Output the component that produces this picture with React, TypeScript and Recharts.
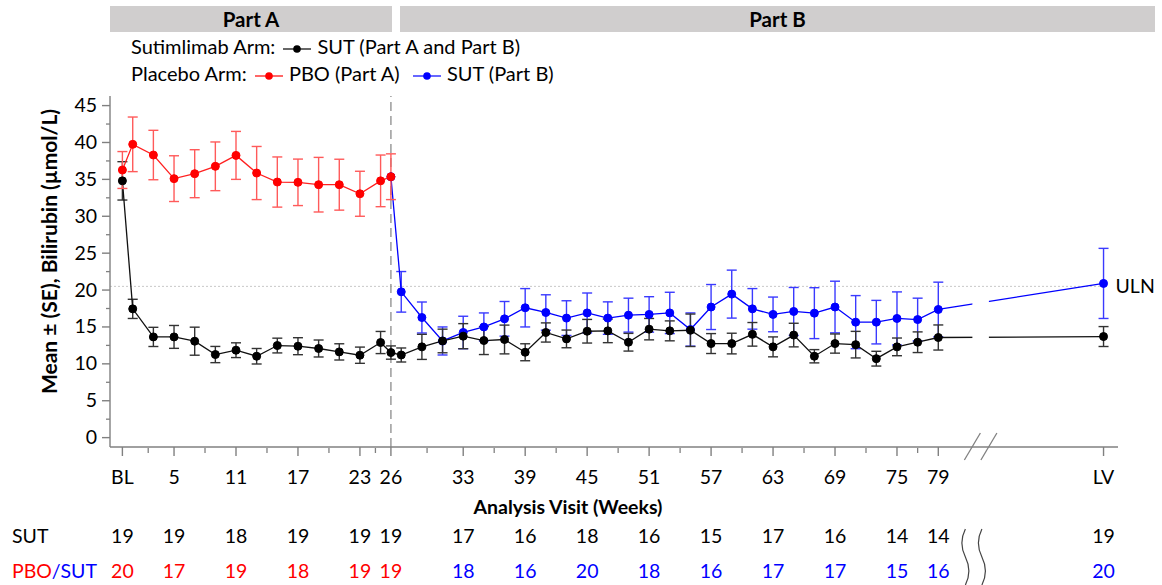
import React from 'react';
import { ComposedChart, Line, XAxis, YAxis, ErrorBar, ReferenceLine, ReferenceArea, Label } from 'recharts';

const FONT = 'Lato, "Open Sans", sans-serif';
const AXIS_GRAY = '#808080';

// Sutimlimab arm (Part A and Part B) — weeks (95 = LV)
const sutWeeks = [0, 1, 3, 5, 7, 9, 11, 13, 15, 17, 19, 21, 23, 25, 26, 27, 29, 31, 33, 35, 37, 39, 41, 43, 45, 47, 49, 51, 53, 55, 57, 59, 61, 63, 65, 67, 69, 71, 73, 75, 77, 79, 95];
const sutMean = [34.8, 17.45, 13.65, 13.65, 13.07, 11.26, 11.85, 11.03, 12.48, 12.39, 12.08, 11.62, 11.17, 12.89, 11.53, 11.2, 12.3, 13.1, 13.75, 13.16, 13.3, 11.57, 14.25, 13.38, 14.42, 14.47, 12.93, 14.7, 14.47, 14.55, 12.75, 12.75, 14.0, 12.3, 13.9, 11.03, 12.75, 12.6, 10.7, 12.3, 12.93, 13.57, 13.7];
const sutSE = [2.6, 1.3, 1.3, 1.55, 1.9, 1.1, 1.0, 1.05, 1.0, 1.15, 1.15, 1.1, 1.1, 1.5, 0.9, 0.95, 1.7, 1.6, 1.7, 1.9, 1.95, 1.15, 1.3, 1.2, 1.6, 1.6, 1.2, 1.45, 1.35, 2.2, 1.35, 1.4, 1.6, 1.35, 1.6, 0.9, 1.3, 1.8, 1.0, 1.2, 1.4, 1.7, 1.35];

// Placebo arm, PBO (Part A)
const pboWeeks = [0, 1, 3, 5, 7, 9, 11, 13, 15, 17, 19, 21, 23, 25, 26];
const pboMean = [36.27, 39.75, 38.3, 35.1, 35.77, 36.77, 38.25, 35.86, 34.64, 34.6, 34.28, 34.28, 33.05, 34.8, 35.36];
const pboSE = [2.5, 3.7, 3.35, 3.1, 3.25, 3.3, 3.25, 3.6, 3.4, 3.15, 3.7, 3.45, 3.05, 3.5, 3.1];

// Placebo arm, SUT (Part B)
const switchWeeks = [26, 27, 29, 31, 33, 35, 37, 39, 41, 43, 45, 47, 49, 51, 53, 55, 57, 59, 61, 63, 65, 67, 69, 71, 73, 75, 77, 79, 95];
const switchMean = [35.36, 19.76, 16.28, 13.1, 14.25, 15.0, 16.1, 17.6, 16.96, 16.2, 16.9, 16.2, 16.6, 16.7, 16.9, 14.65, 17.7, 19.45, 17.45, 16.7, 17.1, 16.87, 17.7, 15.65, 15.65, 16.15, 16.0, 17.37, 20.9];
const switchSE = [null, 2.75, 2.1, 1.9, 2.2, 1.9, 2.35, 2.6, 2.4, 2.35, 2.7, 2.2, 2.3, 2.4, 2.8, 2.25, 3.05, 3.25, 2.75, 2.35, 3.25, 3.45, 3.5, 3.6, 2.95, 3.6, 2.9, 3.7, 4.75];

// Axis
const majorTicks = [0, 5, 11, 17, 23, 26, 33, 39, 45, 51, 57, 63, 69, 75, 79, 95];
const tickLabels = ['BL', '5', '11', '17', '23', '26', '33', '39', '45', '51', '57', '63', '69', '75', '79', 'LV'];
const minorTicks = [2.5, 8, 14, 20, 24.5, 29.5, 36, 42, 48, 54, 60, 66, 72, 77];
const breakTicks = [82.3, 83.9];
const yMajor = [0, 5, 10, 15, 20, 25, 30, 35, 40, 45];
const yMinor = [2.5, 7.5, 12.5, 17.5, 22.5, 27.5, 32.5, 37.5, 42.5];
const ULN = 20.5;

// N at each visit
const sutN = [19, 19, 18, 19, 19, 19, 17, 16, 18, 16, 15, 17, 16, 14, 14, 19];
const pboN = [20, 17, 19, 18, 19, 19, 18, 16, 20, 18, 16, 17, 17, 15, 16, 20];

const mk = (w: number[], m: number[], s: (number | null)[]) => w.map((week, i) => ({ week, mean: m[i], se: s[i] }));
const sutData = mk(sutWeeks, sutMean, sutSE);
const pboData = mk(pboWeeks, pboMean, pboSE);
const switchData = mk(switchWeeks, switchMean, switchSE);

const X_DOMAIN: [number, number] = [-1.2, 96.4];
const TXT = { fontFamily: FONT, fontSize: 19.5, fill: '#000' };

const squiggle = (x: number, y0: number) =>
  `M ${x} ${y0} Q ${x - 7} ${y0 + 14} ${x} ${y0 + 28} Q ${x + 7} ${y0 + 42} ${x} ${y0 + 56}`;

const SUT_ROW = 96;
const PBO_ROW = 131;

const MainTick = (props: any) => {
  const { x, y, payload } = props;
  const v = payload.value;
  if (breakTicks.includes(v)) {
    return (
      <g>
        <line x1={x - 8} y1={y + 13} x2={x + 8} y2={y - 14} stroke={AXIS_GRAY} strokeWidth={1.3} />
        <path d={squiggle(x - 7, y + 82)} fill="none" stroke="#444" strokeWidth={1.2} />
      </g>
    );
  }
  const idx = majorTicks.indexOf(v);
  if (idx >= 0) {
    return (
      <g>
        <line x1={x} y1={y} x2={x} y2={y + 9} stroke={AXIS_GRAY} strokeWidth={1.4} />
        <text x={x} y={y + 37} textAnchor="middle" {...TXT}>{tickLabels[idx]}</text>
        {idx === 0 && <text x={12} y={y + SUT_ROW} {...TXT}>SUT</text>}
        {idx === 0 && (
          <text x={12} y={y + PBO_ROW} {...TXT}>
            <tspan fill="#ff0000">PBO</tspan>
            <tspan fill="#0000ff">/SUT</tspan>
          </text>
        )}
        <text x={x} y={y + SUT_ROW} textAnchor="middle" {...TXT}>{sutN[idx]}</text>
        <text x={x} y={y + PBO_ROW} textAnchor="middle" {...TXT} fill={v <= 26 ? '#ff0000' : '#0000ff'}>{pboN[idx]}</text>
      </g>
    );
  }
  return <line x1={x} y1={y + 1} x2={x} y2={y + 6} stroke={AXIS_GRAY} strokeWidth={1.3} />;
};

const YTick = (props: any) => {
  const { x, y, payload } = props;
  const v = payload.value;
  if (yMajor.includes(v)) {
    return (
      <g>
        <line x1={x} y1={y} x2={x - 8} y2={y} stroke={AXIS_GRAY} strokeWidth={1.4} />
        <text x={x - 13} y={y + 6.5} textAnchor="end" {...TXT}>{v}</text>
      </g>
    );
  }
  return <line x1={x} y1={y} x2={x - 4} y2={y} stroke={AXIS_GRAY} strokeWidth={1.3} />;
};

const LegendMark = ({ color }: { color: string }) => (
  <svg width={30} height={12} style={{ verticalAlign: 'middle', margin: '0 5px 0 2px' }}>
    <line x1={1} y1={6} x2={29} y2={6} stroke={color} strokeWidth={1.2} />
    <circle cx={15} cy={6} r={3.8} fill={color} />
  </svg>
);

export default function App() {
  const headerStyle: React.CSSProperties = {
    position: 'absolute', top: 6, height: 26, background: '#d0cece', fontFamily: FONT,
    fontWeight: 700, fontSize: 20.5, lineHeight: '26px', textAlign: 'center', color: '#000',
  };
  const legendLine: React.CSSProperties = {
    position: 'absolute', left: 131, fontFamily: FONT, fontSize: 20, color: '#000', whiteSpace: 'nowrap', lineHeight: '26px',
  };
  return (
    <div style={{ position: 'absolute', left: 0, top: 0, width: 1162, height: 585, background: '#fff' }}>
      <div style={{ ...headerStyle, left: 110, width: 282 }}>Part A</div>
      <div style={{ ...headerStyle, left: 400, width: 755 }}>Part B</div>
      <div style={{ ...legendLine, top: 33 }}>
        Sutimlimab Arm: <LegendMark color="#000" />SUT (Part A and Part B)
      </div>
      <div style={{ ...legendLine, top: 60 }}>
        Placebo Arm: <LegendMark color="#ff0000" />PBO (Part A)&nbsp;&nbsp;<LegendMark color="#0000ff" />SUT (Part B)
      </div>
      <div style={{ position: 'absolute', left: 0, top: 0 }}>
        <ComposedChart width={1162} height={585} margin={{ top: 96, right: 44, left: 50, bottom: 0 }}>
          <XAxis
            xAxisId="main" dataKey="week" type="number" domain={X_DOMAIN} allowDataOverflow
            ticks={[...majorTicks, ...minorTicks, ...breakTicks]} interval={0}
            tick={<MainTick />} tickLine={false} tickSize={0} tickMargin={0}
            axisLine={{ stroke: AXIS_GRAY, strokeWidth: 1.4 }} height={138}
          >
            <Label
              content={(p: any) => {
                const vb = p.viewBox;
                return (
                  <text x={vb.x + vb.width / 2 - 46} y={vb.y + 67} textAnchor="middle" {...TXT} fontWeight={700}>
                    Analysis Visit (Weeks)
                  </text>
                );
              }}
            />
          </XAxis>
          <YAxis
            type="number" domain={[-1.27, 46.3]} allowDataOverflow width={60}
            ticks={[...yMajor, ...yMinor]} interval={0}
            tick={<YTick />} tickLine={false} tickSize={0} tickMargin={0}
            axisLine={{ stroke: AXIS_GRAY, strokeWidth: 1.4 }}
          >
            <Label
              content={(p: any) => {
                const vb = p.viewBox;
                const cx = vb.x - 2;
                const cy = vb.y + vb.height / 2 - 20;
                return (
                  <text x={cx} y={cy} transform={`rotate(-90 ${cx} ${cy})`} textAnchor="middle" dominantBaseline="central" {...TXT} fontSize={21} fontWeight={700}>
                    Mean ± (SE), Bilirubin (µmol/L)
                  </text>
                );
              }}
            />
          </YAxis>

          <ReferenceLine
            xAxisId="main"
            segment={[{ x: X_DOMAIN[0], y: ULN }, { x: 95, y: ULN }]}
            stroke="#c8c8c8" strokeDasharray="2 2" strokeWidth={1}
            label={{ value: 'ULN', position: 'right', offset: 12, fill: '#000', fontFamily: FONT, fontSize: 19.5 }}
          />
          <ReferenceLine xAxisId="main" x={26} stroke="#8c8c8c" strokeDasharray="9 5" strokeWidth={1.3} />

          <Line
            xAxisId="main" data={switchData} dataKey="mean" stroke="#0000ff" strokeWidth={1.3}
            dot={{ r: 4, fill: '#0000ff', stroke: '#0000ff', strokeWidth: 1 }} isAnimationActive={false}
          >
            <ErrorBar dataKey="se" direction="y" width={5} stroke="#3a3aff" strokeWidth={1.4} />
          </Line>
          <Line
            xAxisId="main" data={sutData} dataKey="mean" stroke="#111" strokeWidth={1.3}
            dot={{ r: 4, fill: '#000', stroke: '#000', strokeWidth: 1 }} isAnimationActive={false}
          >
            <ErrorBar dataKey="se" direction="y" width={5} stroke="#333" strokeWidth={1.4} />
          </Line>
          <Line
            xAxisId="main" data={pboData} dataKey="mean" stroke="#ff2020" strokeWidth={1.3}
            dot={{ r: 4, fill: '#ff0000', stroke: '#ff0000', strokeWidth: 1 }} isAnimationActive={false}
          >
            <ErrorBar dataKey="se" direction="y" width={5} stroke="#ff5a5a" strokeWidth={1.4} />
          </Line>

          <ReferenceArea
            xAxisId="main" x1={breakTicks[0]} x2={breakTicks[1]} y1={11} y2={19.5}
            fill="#ffffff" fillOpacity={1} stroke="none" zIndex={2000}
          />
        </ComposedChart>
      </div>
    </div>
  );
}
